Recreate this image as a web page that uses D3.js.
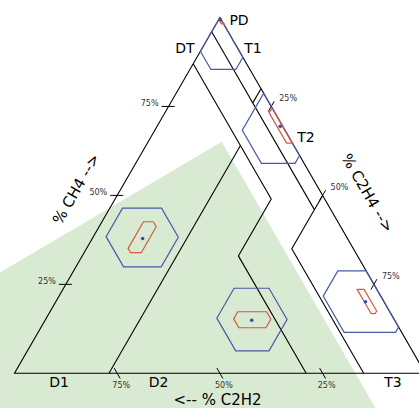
<!DOCTYPE html>
<meta charset="utf-8">
<style>
body { margin: 0; background: #fff; }
svg { display: block; font-family: "DejaVu Sans", sans-serif; }
.shade { fill: #d9ead3; stroke: none; }
.frame path, .zones path { fill: none; stroke: #000; stroke-width: 1.1; }
.ticks line { stroke: #000; stroke-width: 1; }
.ticks text { font-size: 8px; fill: #333; }
.zone-label { font-size: 14px; fill: #000; }
.axis-title { font-size: 15px; fill: #000; }
.outer { fill: none; stroke: #4a59a7; stroke-width: 1.2; }
.inner { fill: none; stroke: #d65a3f; stroke-width: 1.2; stroke-linejoin: round; }
.dot { fill: #3b4ea0; }
</style>
<body>
<script src="https://cdn.jsdelivr.net/npm/d3@7"></script>
<script>

// ---- data (fractions, C2H2 = 1 - CH4 - C2H4) ----

var tickValues = [0.25, 0.5, 0.75]

// zone boundaries as polylines of [CH4, C2H4]
var boundaries = [
    [[0.96, 0.00], [0.46, 0.50]],                            // C2H2 = 4%
    [[0.80, 0.20], [0.76, 0.20]],                            // T1 / T2
    [[0.50, 0.50], [0.35, 0.50], [0.00, 0.85]],              // T3
    [[0.87, 0.00], [0.49, 0.38], [0.33, 0.38], [0.00, 0.71]], // D2 / DT
    [[0.00, 0.23], [0.64, 0.23]]                             // D1 / D2
]

var zoneNames = ['PD', 'DT', 'T1', 'T2', 'T3', 'D1', 'D2']

// shaded band behind the triangle, [CH4, C2H4]
var shadeCH4 = [0.651, 0.283, -0.098, -0.098]
var shadeC2H4 = [0.179, -0.177, 0.014, 0.928]

// samples: PD, T2, D1, D2, T3
var pointCH4 = [0.994, 0.694, 0.379, 0.149, 0.201]
var pointC2H4 = [0.004, 0.300, 0.1225, 0.503, 0.754]

// outer (blue) uncertainty bounds [lo, hi]
var outerCH4 = [[0.854, 1.0], [0.59, 0.786], [0.299, 0.464], [0.063, 0.239], [0.115, 0.288]]
var outerC2H4 = [[0.0, 0.112], [0.213, 0.388], [0.031, 0.2075], [0.415, 0.588], [0.643, 0.87]]
var outerC2H2 = [[0.0, 0.095], [0.0, 0.104], [0.41, 0.585], [0.261, 0.43], [0.0, 0.14]]

// inner (red) uncertainty bounds [lo, hi]
var innerCH4 = [[0.982, 1.0], [0.647, 0.741], [0.339, 0.426], [0.128, 0.173], [0.168, 0.236]]
var innerC2H4 = [[0.0, 0.02], [0.254, 0.354], [0.101, 0.139], [0.457, 0.548], [0.716, 0.794]]
var innerC2H2 = [[0.0, 0.005], [0.0, 0.014], [0.449, 0.548], [0.30, 0.39], [0.031, 0.048]]

// ---- layout ----

var width = 419
var height = 408

var x = d3.scaleLinear().domain([0, 1]).range([14.5, 425.3])
var y = d3.scaleLinear().domain([0, 1]).range([373.3, 17.5])

function proj(d) { return [x(d[1] + d[0] / 2), y(d[0])] }

var line = d3.line()
    .x(function (d) { return proj(d)[0] })
    .y(function (d) { return proj(d)[1] })

var zonePos = {
    PD: [239, 25], DT: [185, 53], T1: [253, 53], T2: [306, 142],
    T3: [393, 387], D1: [59, 387], D2: [158.5, 387]
}

var svg = d3.select('body').append('svg')
    .attr('width', width)
    .attr('height', height)

// shaded band
svg.append('path')
    .attr('class', 'shade')
    .attr('d', line(shadeCH4.map(function (a, i) { return [a, shadeC2H4[i]] })) + 'Z')

// frame
svg.append('g').attr('class', 'frame')
    .append('path')
    .attr('d', line([[1, 0], [0, 1], [0, 0]]) + 'Z')

// zone lines
svg.append('g').attr('class', 'zones')
    .selectAll('path')
    .data(boundaries)
    .enter().append('path')
    .attr('d', line)

// ticks
var ticks = svg.append('g').attr('class', 'ticks')
var fmt = d3.format('.0%')

// CH4 on the left side
tickValues.forEach(function (v) {
    var p = proj([v, 0])
    ticks.append('line')
        .attr('x1', p[0] - 7).attr('x2', p[0] + 6)
        .attr('y1', p[1]).attr('y2', p[1])
    ticks.append('text')
        .attr('x', p[0] - 10).attr('y', p[1] - 0.5)
        .attr('text-anchor', 'end')
        .text(fmt(v))
})

// C2H4 on the right side
tickValues.forEach(function (v) {
    var p = proj([1 - v, v])
    ticks.append('line')
        .attr('x1', p[0] - 3).attr('y1', p[1] + 5.2)
        .attr('x2', p[0] + 3).attr('y2', p[1] - 5.2)
    ticks.append('text')
        .attr('x', p[0] + 8).attr('y', p[1] - 5.5)
        .text(fmt(v))
})

// C2H2 on the bottom
tickValues.forEach(function (v) {
    var p = proj([0, 1 - v])
    ticks.append('line')
        .attr('x1', p[0] - 3).attr('y1', p[1] - 5.2)
        .attr('x2', p[0] + 3).attr('y2', p[1] + 5.2)
    ticks.append('text')
        .attr('x', p[0] + 4).attr('y', p[1] + 15)
        .attr('text-anchor', 'middle')
        .text(fmt(v))
})

// uncertainty hexagons
function hexagon(A, B, C) {
    return [
        [A[1], B[0]],
        [A[1], 1 - A[1] - C[0]],
        [1 - B[1] - C[0], B[1]],
        [A[0], B[1]],
        [A[0], 1 - A[0] - C[1]],
        [1 - C[1] - B[0], B[0]]
    ]
}

svg.append('g')
    .selectAll('path')
    .data(pointCH4)
    .enter().append('path')
    .attr('class', 'outer')
    .attr('d', function (d, i) { return line(hexagon(outerCH4[i], outerC2H4[i], outerC2H2[i])) + 'Z' })

svg.append('g')
    .selectAll('path')
    .data(pointCH4)
    .enter().append('path')
    .attr('class', 'inner')
    .attr('d', function (d, i) { return line(hexagon(innerCH4[i], innerC2H4[i], innerC2H2[i])) + 'Z' })

svg.append('g')
    .selectAll('circle')
    .data(pointCH4)
    .enter().append('circle')
    .attr('class', 'dot')
    .attr('r', 1.8)
    .attr('cx', function (d, i) { return proj([d, pointC2H4[i]])[0] })
    .attr('cy', function (d, i) { return proj([d, pointC2H4[i]])[1] })

// zone labels
svg.append('g')
    .selectAll('text')
    .data(zoneNames)
    .enter().append('text')
    .attr('class', 'zone-label')
    .attr('text-anchor', 'middle')
    .attr('x', function (d) { return zonePos[d][0] })
    .attr('y', function (d) { return zonePos[d][1] })
    .text(function (d) { return d })

// axis titles
svg.append('text')
    .attr('class', 'axis-title')
    .attr('text-anchor', 'middle')
    .attr('dy', '0.35em')
    .attr('transform', 'translate(76,189) rotate(-60)')
    .text('% CH4 -->')

svg.append('text')
    .attr('class', 'axis-title')
    .attr('text-anchor', 'middle')
    .attr('dy', '0.35em')
    .attr('transform', 'translate(367.5,193) rotate(60)')
    .text('% C2H4 -->')

svg.append('text')
    .attr('class', 'axis-title')
    .attr('text-anchor', 'middle')
    .attr('x', 217.5).attr('y', 404.5)
    .text('<-- % C2H2')

</script>
</body>
